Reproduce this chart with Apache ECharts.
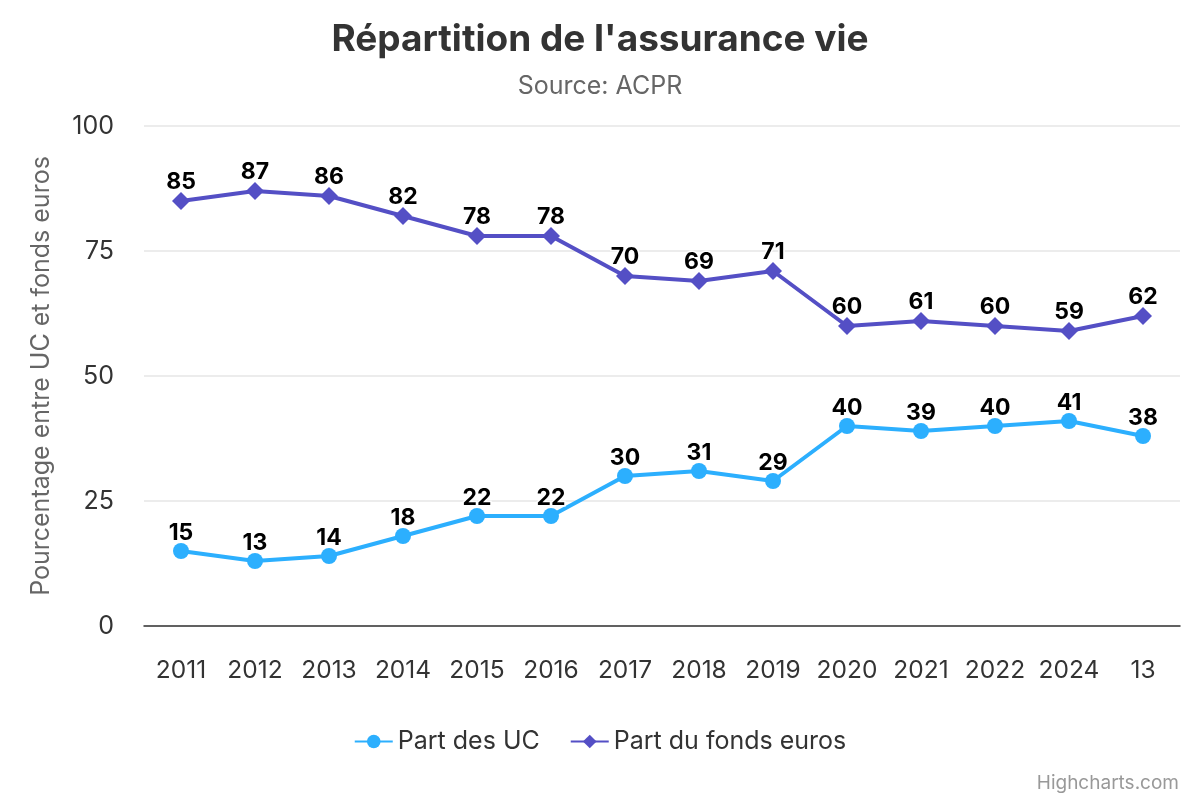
<!DOCTYPE html>
<html><head><meta charset="utf-8">
<script src="https://cdn.jsdelivr.net/npm/echarts@6/dist/echarts.min.js"></script>
<style>html,body{margin:0;padding:0;background:#fff}#c{width:1200px;height:800px}</style>
</head><body><div id="c"></div>
<script>
const categories = ['2011','2012','2013','2014','2015','2016','2017','2018','2019','2020','2021','2022','2024','13'];
const partUC = [15,13,14,18,22,22,30,31,29,40,39,40,41,38];
const partFonds = [85,87,86,82,78,78,70,69,71,60,61,60,59,62];
const yTicks = [0,25,50,75,100];

const font = 'Inter, "Noto Sans", sans-serif';
const chart = echarts.init(document.getElementById('c'), null, {renderer:'canvas'});
const label = {show:true, position:'top', distance:-2, color:'#000', fontWeight:'bold', fontSize:23, fontFamily:font, textBorderColor:'#fff', textBorderWidth:3};
chart.setOption({
  animation:false,
  title:{text:"Répartition de l'assurance vie", subtext:'Source: ACPR', left:'center', top:16,
    textStyle:{fontSize:37, fontWeight:'bold', color:'#333', fontFamily:font},
    subtextStyle:{fontSize:25, color:'#666', fontFamily:font}, itemGap:16},
  grid:{left:144, right:20, top:126, bottom:174, containLabel:false},
  legend:{bottom:41, left:'center', itemWidth:38, itemHeight:17, itemGap:30,
    textStyle:{fontSize:25, color:'#333', fontFamily:font},
    data:['Part des UC','Part du fonds euros']},
  xAxis:{type:'category', data:categories, boundaryGap:true,
    axisLine:{lineStyle:{color:'#333', width:1.5}}, axisTick:{show:false},
    axisLabel:{interval:0, fontSize:24.5, color:'#333', margin:32, fontFamily:font}},
  yAxis:{type:'value', min:yTicks[0], max:yTicks[yTicks.length-1], interval:25,
    name:'Pourcentage entre UC et fonds euros', nameLocation:'middle', nameGap:90, nameRotate:90,
    nameTextStyle:{fontSize:25, color:'#666', fontFamily:font},
    axisLine:{show:false}, axisTick:{show:false},
    axisLabel:{fontSize:25, color:'#333', margin:30, fontFamily:font},
    splitLine:{lineStyle:{color:'#e6e6e6', width:1.5}}},
  series:[
    {name:'Part des UC', type:'line', data:partUC, symbol:'circle', symbolSize:16,
      lineStyle:{width:4, color:'#2caffe'}, itemStyle:{color:'#2caffe'}, label:label},
    {name:'Part du fonds euros', type:'line', data:partFonds, symbol:'diamond', symbolSize:18,
      lineStyle:{width:4, color:'#544fc5'}, itemStyle:{color:'#544fc5'}, label:label}
  ],
  graphic:[{type:'text', right:21, bottom:7, style:{text:'Highcharts.com', fontSize:19, fill:'#999', fontFamily:font}}]
});
</script></body></html>
